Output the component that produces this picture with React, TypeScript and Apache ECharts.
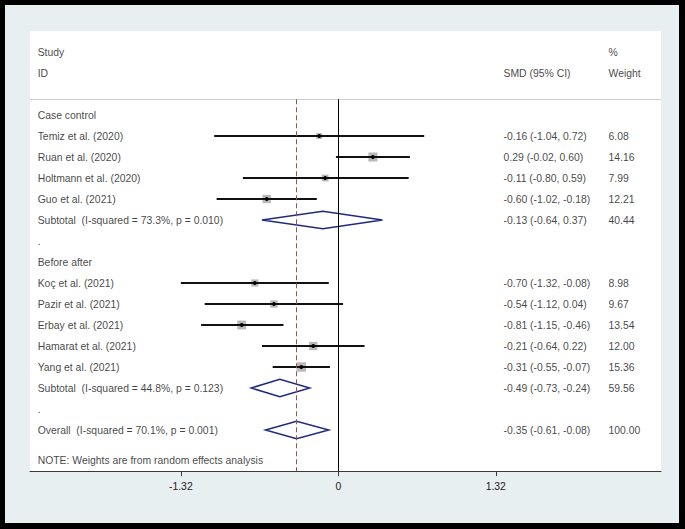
import React, { useEffect, useRef } from "react";
import * as echarts from "echarts";

const groupNames = ["Case control", "Before after"];

const caseControlStudies = ["Temiz et al. (2020)", "Ruan et al. (2020)", "Holtmann et al. (2020)", "Guo et al. (2021)"];
const caseControlSmd = [-0.16, 0.29, -0.11, -0.6];
const caseControlLower = [-1.04, -0.02, -0.8, -1.02];
const caseControlUpper = [0.72, 0.6, 0.59, -0.18];
const caseControlWeight = [6.08, 14.16, 7.99, 12.21];

const beforeAfterStudies = ["Koç et al. (2021)", "Pazir et al. (2021)", "Erbay et al. (2021)", "Hamarat et al. (2021)", "Yang et al. (2021)"];
const beforeAfterSmd = [-0.7, -0.54, -0.81, -0.21, -0.31];
const beforeAfterLower = [-1.32, -1.12, -1.15, -0.64, -0.55];
const beforeAfterUpper = [-0.08, 0.04, -0.46, 0.22, -0.07];
const beforeAfterWeight = [8.98, 9.67, 13.54, 12.0, 15.36];

const subtotalLabels = ["Subtotal  (I-squared = 73.3%, p = 0.010)", "Subtotal  (I-squared = 44.8%, p = 0.123)"];
const subtotalSmd = [-0.13, -0.49];
const subtotalLower = [-0.64, -0.73];
const subtotalUpper = [0.37, -0.24];
const subtotalWeight = [40.44, 59.56];

const overallLabel = "Overall  (I-squared = 70.1%, p = 0.001)";
const overallSmd = -0.35;
const overallLower = -0.61;
const overallUpper = -0.08;
const overallWeight = 100.0;

const xTicks = [-1.32, 0, 1.32];
const headerStudy = ["Study", "ID"];
const headerCi = "SMD (95% CI)";
const headerWeight = ["%", "Weight"];
const noteText = "NOTE: Weights are from random effects analysis";

// layout constants
const X_MIN = -2.5843;
const X_MAX = 2.705;
const COL_LEFT = -2.52;
const COL_CI = 1.385;
const COL_W = 2.265;
const ROW_PX = 21;
const GRID_TOP = 26;
const GRID_BOTTOM = 52;
const CHART_H = 518;
const Y_MIN = -4;
const Y_MAX = Y_MIN + (CHART_H - GRID_TOP - GRID_BOTTOM) / ROW_PX;
const SEP_ROW = -0.75;
const NOTE_ROW = 16.476;

const FONT = "'Liberation Sans', Arial, sans-serif";
const FS = 10.4;

const fmt = (v: number) => v.toFixed(2);
const ciText = (e: number, l: number, u: number) => `${fmt(e)} (${fmt(l)}, ${fmt(u)})`;

function buildRows() {
  const texts: any[] = [];
  const points: any[] = [];
  const diamonds: any[] = [];
  const groups = [
    { s: caseControlStudies, e: caseControlSmd, l: caseControlLower, u: caseControlUpper, w: caseControlWeight },
    { s: beforeAfterStudies, e: beforeAfterSmd, l: beforeAfterLower, u: beforeAfterUpper, w: beforeAfterWeight },
  ];
  texts.push({ value: [COL_LEFT, -3], name: headerStudy[0] });
  texts.push({ value: [COL_LEFT, -2], name: headerStudy[1] });
  texts.push({ value: [COL_CI, -2], name: headerCi });
  texts.push({ value: [COL_W, -3], name: headerWeight[0] });
  texts.push({ value: [COL_W, -2], name: headerWeight[1] });
  let row = 0;
  groups.forEach((g, gi) => {
    texts.push({ value: [COL_LEFT, row], name: groupNames[gi] });
    row++;
    g.s.forEach((name, i) => {
      texts.push({ value: [COL_LEFT, row], name });
      texts.push({ value: [COL_CI, row], name: ciText(g.e[i], g.l[i], g.u[i]) });
      texts.push({ value: [COL_W, row], name: fmt(g.w[i]) });
      points.push([g.e[i], row, g.l[i], g.u[i], g.w[i]]);
      row++;
    });
    texts.push({ value: [COL_LEFT, row], name: subtotalLabels[gi] });
    texts.push({ value: [COL_CI, row], name: ciText(subtotalSmd[gi], subtotalLower[gi], subtotalUpper[gi]) });
    texts.push({ value: [COL_W, row], name: fmt(subtotalWeight[gi]) });
    diamonds.push([subtotalSmd[gi], row, subtotalLower[gi], subtotalUpper[gi]]);
    row++;
    texts.push({ value: [COL_LEFT, row], name: "." });
    row++;
  });
  texts.push({ value: [COL_LEFT, row], name: overallLabel });
  texts.push({ value: [COL_CI, row], name: ciText(overallSmd, overallLower, overallUpper) });
  texts.push({ value: [COL_W, row], name: fmt(overallWeight) });
  diamonds.push([overallSmd, row, overallLower, overallUpper]);
  texts.push({ value: [COL_LEFT, NOTE_ROW], name: noteText });
  return { texts, points, diamonds };
}

export default function App() {
  const ref = useRef<HTMLDivElement>(null);
  useEffect(() => {
    if (!ref.current) return;
    const chart = echarts.init(ref.current, undefined, { renderer: "svg" });
    const { texts, points, diamonds } = buildRows();
    chart.setOption({
      animation: false,
      backgroundColor: "#e8eff1",
      grid: {
        left: 25,
        right: 18,
        top: GRID_TOP,
        bottom: GRID_BOTTOM,
        show: true,
        backgroundColor: "#ffffff",
        borderWidth: 0,
      },
      xAxis: {
        type: "value",
        min: X_MIN,
        max: X_MAX,
        splitLine: { show: false },
        axisLine: { show: true, onZero: false, lineStyle: { color: "#3a3a3a", width: 1 } },
        axisTick: { show: true, customValues: xTicks, length: 5, lineStyle: { color: "#3a3a3a" } },
        axisLabel: {
          customValues: xTicks,
          formatter: (v: number) => String(v),
          fontSize: FS,
          fontFamily: FONT,
          color: "#222",
          margin: 10,
        },
      },
      yAxis: { type: "value", inverse: true, min: Y_MIN, max: Y_MAX, show: false },
      series: [
        {
          type: "line",
          data: [],
          silent: true,
          markLine: {
            silent: true,
            symbol: "none",
            label: { show: false },
            data: [
              [
                { coord: [X_MIN, SEP_ROW], lineStyle: { color: "#cfcfcf", width: 1, type: "solid" } },
                { coord: [X_MAX, SEP_ROW] },
              ],
              [
                { coord: [0, SEP_ROW], lineStyle: { color: "#000", width: 1, type: "solid" } },
                { coord: [0, Y_MAX] },
              ],
              [
                { coord: [overallSmd, SEP_ROW], lineStyle: { color: "#985050", width: 1, type: [5, 3] } },
                { coord: [overallSmd, Y_MAX] },
              ],
            ],
          },
          z: 1,
        },
        {
          type: "custom",
          data: points,
          encode: { x: [0, 2, 3], y: 1 },
          silent: true,
          z: 3,
          renderItem: (params: any, api: any) => {
            const c = api.coord([api.value(0), api.value(1)]);
            const l = api.coord([api.value(2), api.value(1)]);
            const h = api.coord([api.value(3), api.value(1)]);
            const s = 2.4 * Math.sqrt(api.value(4));
            return {
              type: "group",
              children: [
                { type: "rect", shape: { x: c[0] - s / 2, y: c[1] - s / 2, width: s, height: s }, style: { fill: "#b9b9b9" } },
                { type: "line", shape: { x1: l[0], y1: l[1], x2: h[0], y2: h[1] }, style: { stroke: "#111", lineWidth: 1.8 } },
                { type: "circle", shape: { cx: c[0], cy: c[1], r: 1.9 }, style: { fill: "#000" } },
              ],
            };
          },
        },
        {
          type: "custom",
          data: diamonds,
          encode: { x: [0, 2, 3], y: 1 },
          silent: true,
          z: 3,
          renderItem: (params: any, api: any) => {
            const c = api.coord([api.value(0), api.value(1)]);
            const l = api.coord([api.value(2), api.value(1)]);
            const h = api.coord([api.value(3), api.value(1)]);
            const hh = 8.7;
            return {
              type: "polygon",
              shape: { points: [[l[0], c[1]], [c[0], c[1] - hh], [h[0], c[1]], [c[0], c[1] + hh]] },
              style: { fill: "none", stroke: "#1f2a7d", lineWidth: 1.5 },
            };
          },
        },
        {
          type: "scatter",
          data: texts,
          symbolSize: 0,
          silent: true,
          z: 4,
          label: {
            show: true,
            position: "right",
            distance: 0,
            formatter: (p: any) => p.name,
            fontSize: FS,
            fontFamily: FONT,
            color: "#111",
          },
        },
      ],
    });
    return () => chart.dispose();
  }, []);
  return (
    <div style={{ position: "fixed", left: 0, top: 0, width: 685, height: 529, background: "#000" }}>
      <div ref={ref} style={{ position: "absolute", left: 5, top: 5, width: 674, height: CHART_H }} />
    </div>
  );
}
